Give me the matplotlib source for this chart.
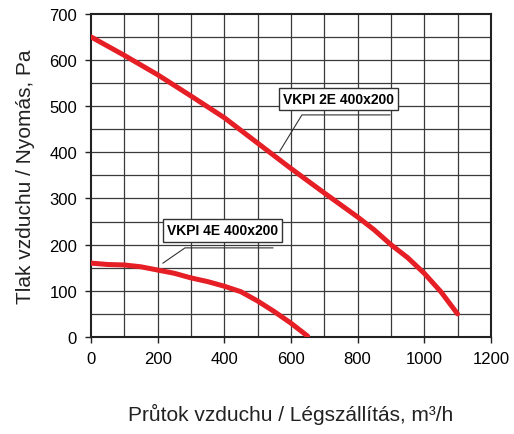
import matplotlib
matplotlib.use('Agg')
import matplotlib.pyplot as plt

plt.rcParams['font.family'] = ['Liberation Sans', 'DejaVu Sans']

# fan curves
flow_2e = [0, 100, 200, 300, 400, 500, 600, 700, 800, 850, 900, 950, 1000, 1050, 1100]
press_2e = [650, 610, 568, 522, 475, 420, 365, 312, 260, 232, 200, 172, 138, 98, 50]

flow_4e = [0, 50, 100, 150, 200, 250, 300, 350, 400, 450, 500, 550, 600, 650]
press_4e = [160, 157, 156, 152, 145, 138, 128, 120, 110, 98, 78, 55, 30, 2]

x_ticks = [0, 200, 400, 600, 800, 1000, 1200]
y_ticks = [0, 100, 200, 300, 400, 500, 600, 700]

fig = plt.figure(figsize=(5.14, 4.35), dpi=100)
ax = fig.add_axes([0.177, 0.223, 0.778, 0.743])

# grid every 100 m3/h and 50 Pa
for gx in range(100, 1200, 100):
    ax.axvline(gx, color='#3a3a3a', lw=0.9, zorder=1)
for gy in range(50, 700, 50):
    ax.axhline(gy, color='#3a3a3a', lw=0.9, zorder=1)

red = '#e61e25'
ax.plot(flow_2e, press_2e, color=red, lw=3.6, solid_capstyle='round', zorder=3)
ax.plot(flow_4e, press_4e, color=red, lw=3.6, solid_capstyle='round', zorder=3)

# labels with leader lines
box = dict(boxstyle='square,pad=0.3', fc='white', ec='#333333', lw=1)
ax.text(742, 516, 'VKPI 2E 400x200', ha='center', va='center', fontsize=10,
        fontweight='bold', bbox=box, zorder=5)
ax.plot([897, 633, 567], [481, 481, 403], color='#333333', lw=0.8, zorder=4)

ax.text(394, 231, 'VKPI 4E 400x200', ha='center', va='center', fontsize=10,
        fontweight='bold', bbox=box, zorder=5)
ax.plot([546, 282, 216], [193, 193, 160], color='#333333', lw=0.8, zorder=4)

ax.set_xlim(0, 1200)
ax.set_ylim(0, 700)
ax.set_xticks(x_ticks)
ax.set_yticks(y_ticks)
ax.tick_params(labelsize=12, direction='out', length=4, width=1, color='#222222', pad=6)
for s in ax.spines.values():
    s.set_linewidth(1.5)
    s.set_color('#222222')

ax.set_xlabel('Průtok vzduchu / Légszállítás, m³/h', fontsize=15, labelpad=27, color='#222222')
ax.set_ylabel('Tlak vzduchu / Nyomás, Pa', fontsize=15, labelpad=10, color='#222222')

fig.savefig('out.png', dpi=100)
